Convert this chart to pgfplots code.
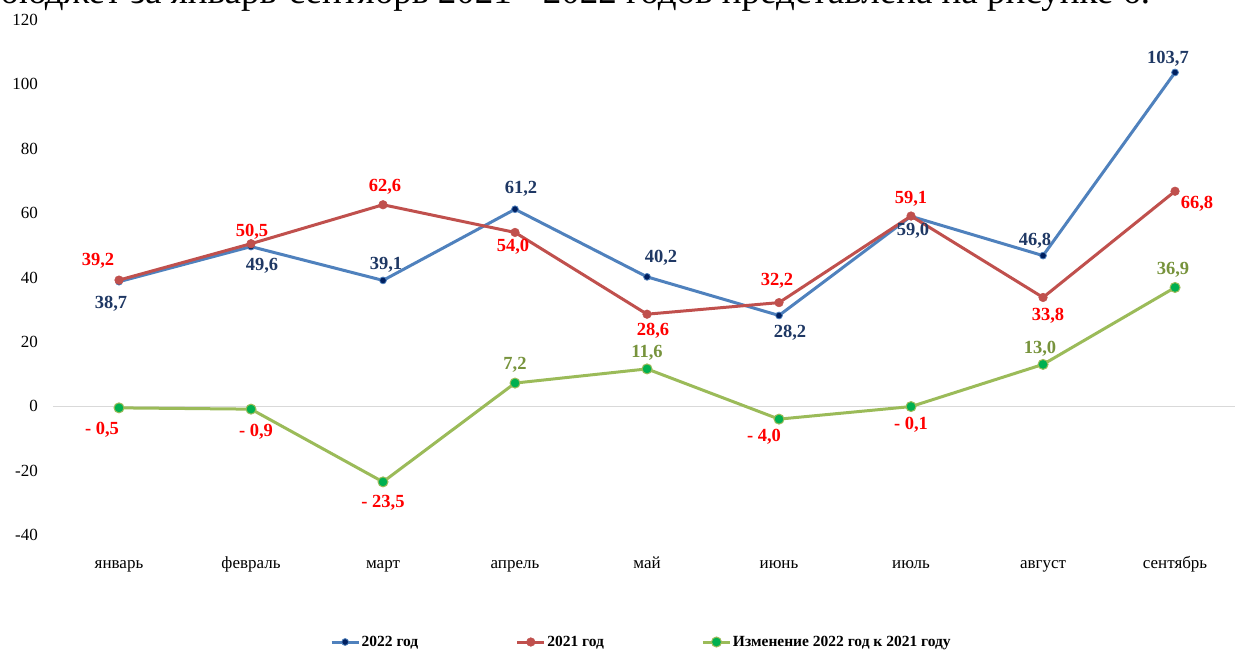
\documentclass[border=0pt]{standalone}
\usepackage{pgfplots}
\pgfplotsset{compat=1.18}
\usepackage{pgfplotstable}
\usepackage{fontspec}
\setmainfont{Liberation Serif}

\definecolor{blueline}{HTML}{4F81BD}
\definecolor{bluemark}{HTML}{002060}
\definecolor{bluelab}{HTML}{1F3864}
\definecolor{redline}{HTML}{C0504D}
\definecolor{redlab}{HTML}{FF0000}
\definecolor{greenline}{HTML}{9BBB59}
\definecolor{greenmark}{HTML}{00B050}
\definecolor{greenlab}{HTML}{77933C}

\pgfplotstableread{
x y lab lx ly
0 38.7 38,7 -8 -22
1 49.6 49,6 11 -19
2 39.1 39,1 3 16
3 61.2 61,2 6 20
4 40.2 40,2 14 19
5 28.2 28,2 11 -17
6 59.0 59,0 2 -14
7 46.8 46,8 -8 15
8 103.7 103,7 -7 14
}\tblA

\pgfplotstableread{
x y lab lx ly
0 39.2 39,2 -21 19
1 50.5 50,5 1 12
2 62.6 62,6 2 18
3 54.0 54,0 -2 -14
4 28.6 28,6 6 -17
5 32.2 32,2 -2 22
6 59.1 59,1 0 17
7 33.8 33,8 5 -18
8 66.8 66,8 22 -13
}\tblB

\pgfplotstableread{
x y lab neg lx ly
0 -0.5 0,5 1 -17 -22
1 -0.9 0,9 1 5 -23
2 -23.5 23,5 1 0 -21
3 7.2 7,2 0 0 18
4 11.6 11,6 0 0 16
5 -4.0 4,0 1 -15 -18
6 -0.1 0,1 1 0 -18
7 13.0 13,0 0 -3 16
8 36.9 36,9 0 -2 18
}\tblC

\pgfplotsset{
  labshift/.style={
    point meta=explicit symbolic,
    visualization depends on={\thisrow{lx} \as \lx},
    visualization depends on={\thisrow{ly} \as \ly},
    every node near coord/.append style={anchor=center, xshift=\lx pt, yshift=\ly pt,
      font=\bfseries\fontsize{18.5}{20}\selectfont, inner sep=0pt},
  }
}

\begin{document}
\begin{tikzpicture}
\begin{axis}[
  at={(0pt,0pt)}, anchor=south west,
  scale only axis, width=1182pt, height=515pt,
  xmin=-0.5, xmax=8.4545, ymin=-40, ymax=120,
  xtick={0,...,8},
  xticklabels={январь,февраль,март,апрель,май,июнь,июль,август,сентябрь},
  ytick={-40,-20,...,120},
  axis line style={draw=none}, major tick length=0pt,
  tick label style={font=\fontsize{17}{19}\selectfont},
  yticklabel style={anchor=east, inner sep=0pt, xshift=-15pt},
  xticklabel style={anchor=base, inner sep=0pt, yshift=-33pt},
  /pgf/number format/assume math mode=true,
  extra y ticks={0}, extra y tick labels={},
  extra y tick style={grid=major, major grid style={draw=black!15, line width=1pt}},
  clip=false,
  legend columns=3,
  legend style={at={(0.2343,-0.2078)}, anchor=west, draw=none, fill=none,
    inner sep=0pt, font=\bfseries\fontsize{15.5}{17}\selectfont,
    /tikz/every even column/.append style={column sep=96pt},
    nodes={inner sep=1.5pt}},
  legend image code/.code={\draw[mark repeat=2,mark phase=2,#1] plot coordinates {(0pt,0pt) (13.5pt,0pt) (27pt,0pt)};},
]
\addplot[blueline, line width=3pt, mark=*, mark size=3.4pt,
  mark options={fill=bluemark, draw=blueline, line width=0.8pt},
  labshift,
  nodes near coords={\pgfplotspointmeta},
  every node near coord/.append style={text=bluelab}]
  table[x=x, y=y, meta=lab] {\tblA};
\addlegendentry{2022 год}
\addplot[redline, line width=3pt, mark=*, mark size=4.3pt,
  mark options={fill=redline, draw=redline, line width=0.5pt},
  labshift,
  nodes near coords={\pgfplotspointmeta},
  every node near coord/.append style={text=redlab}]
  table[x=x, y=y, meta=lab] {\tblB};
\addlegendentry{2021 год}
\addplot[greenline, line width=3pt, mark=*, mark size=5pt,
  mark options={fill=greenmark, draw=greenline, line width=1pt},
  labshift,
  visualization depends on={\thisrow{neg} \as \isneg},
  nodes near coords={\ifdim\isneg pt>0.5pt \textcolor{redlab}{-~\pgfplotspointmeta}\else\textcolor{greenlab}{\pgfplotspointmeta}\fi}]
  table[x=x, y=y, meta=lab] {\tblC};
\addlegendentry{Изменение 2022 год к 2021 году}
\end{axis}
\node[anchor=base west, inner sep=0pt, font=\fontsize{37}{40}\selectfont] at (-53pt,531.5pt)
  {бюджет за январь-сентябрь 2021 - 2022 годов представлена на рисунке 6.};
\pgfresetboundingbox
\path[use as bounding box] (-53pt,-116pt) rectangle (1182pt,535pt);
\end{tikzpicture}
\end{document}
